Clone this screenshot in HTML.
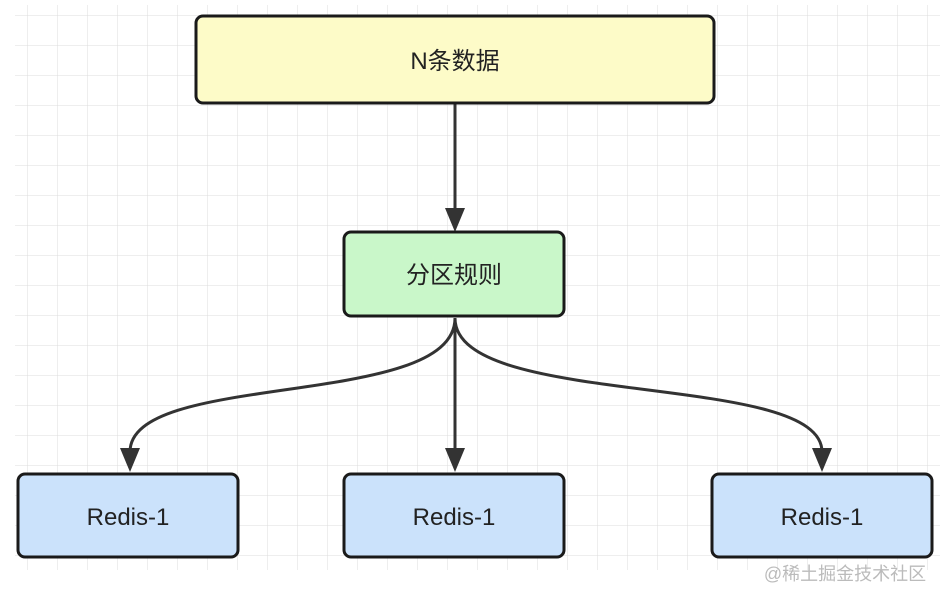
<!DOCTYPE html>
<html><head><meta charset="utf-8"><style>
body{margin:0;width:952px;height:600px;background:#fff;overflow:hidden;font-family:"Liberation Sans","Noto Sans CJK SC",sans-serif;}
</style></head><body>
<svg width="952" height="600" xmlns="http://www.w3.org/2000/svg">
<defs>
<pattern id="g" x="27" y="15" width="30" height="30" patternUnits="userSpaceOnUse">
<path d="M0 0H30M0 0V30" stroke="#dcdcdc" stroke-width="1" fill="none"/>
</pattern>
<marker id="a" markerWidth="10" markerHeight="10" refX="8" refY="5" orient="auto" markerUnits="userSpaceOnUse" viewBox="0 0 10 10">
</marker>
</defs>
<rect x="15" y="5" width="925" height="565" fill="url(#g)"/>
<g stroke="#333" stroke-width="3" fill="none">
<path d="M455 104V212"/>
<path d="M455 318V448"/>
<path d="M455 318C455 410 130 370 130 452"/>
<path d="M455 318C455 410 822 370 822 452"/>
</g>
<g fill="#333">
<path d="M445 208L465 208L455 232Z"/>
<path d="M445 448L465 448L455 472Z"/>
<path d="M120 448L140 448L130 472Z"/>
<path d="M812 448L832 448L822 472Z"/>
</g>
<g stroke="#1a1a1a" stroke-width="3">
<rect x="196" y="16" width="518" height="87" rx="7" fill="#fdfbc8"/>
<rect x="344" y="232" width="220" height="84" rx="7" fill="#c9f7c9"/>
<rect x="18" y="474" width="220" height="83" rx="7" fill="#cbe2fb"/>
<rect x="344" y="474" width="220" height="83" rx="7" fill="#cbe2fb"/>
<rect x="712" y="474" width="220" height="83" rx="7" fill="#cbe2fb"/>
</g>
<g font-size="24" fill="#222" text-anchor="middle">
<text x="455" y="69">N条数据</text>
<text x="454" y="283">分区规则</text>
<text x="128" y="525">Redis-1</text>
<text x="454" y="525">Redis-1</text>
<text x="822" y="525">Redis-1</text>
</g>
<text x="845" y="580" font-size="18" fill="#bbb" text-anchor="middle">@稀土掘金技术社区</text>
</svg>
</body></html>
